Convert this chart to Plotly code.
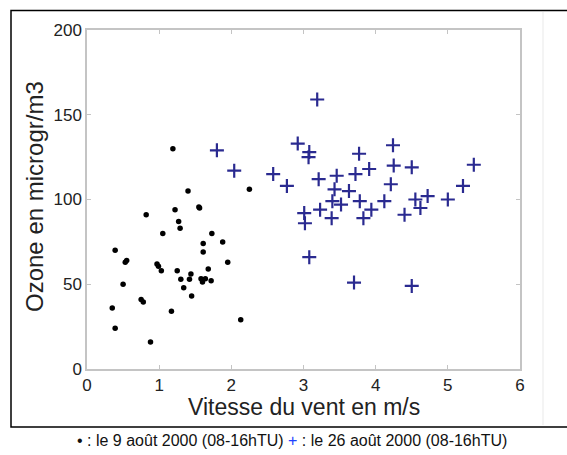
import plotly.graph_objects as go

# Data: 9 August 2000 (black dots)
aug9_wind = [1.19, 2.25, 1.40, 1.55, 1.56, 1.22, 0.82, 1.27, 1.29, 1.05,
             1.73, 1.88, 1.61, 1.61, 0.39, 0.53, 0.55, 1.95, 0.97, 0.99,
             1.03, 1.25, 1.68, 1.30, 1.44, 1.42, 1.58, 1.60, 1.64, 1.72,
             0.50, 1.34, 1.45, 0.75, 0.78, 0.35, 1.17, 0.39, 2.13, 0.88]
aug9_ozone = [130, 106, 105, 95.6, 95, 94, 91, 87, 83, 80,
              80, 75, 74, 69, 70, 63, 64, 63, 62, 60.6,
              58, 58, 59, 53, 56, 53, 53.2, 51.4, 53.2, 52,
              50, 48, 43, 41, 39.6, 36, 34, 24, 29, 16]

# Data: 26 August 2000 (blue crosses)
aug26_wind = [3.19, 1.80, 2.92, 3.08, 3.07, 4.24, 3.77, 2.04, 2.58, 2.77,
              3.21, 3.46, 3.72, 3.91, 4.25, 4.50, 5.36, 4.21, 5.21, 3.43,
              3.63, 3.40, 3.52, 3.78, 4.12, 4.55, 4.72, 5.00, 3.01, 3.23,
              3.94, 4.62, 4.40, 3.02, 3.39, 3.83, 3.08, 3.70, 4.50]
aug26_ozone = [159, 129, 133, 128, 125, 132, 127, 117, 115, 108,
               112, 114, 115, 118, 120, 119, 120.5, 109, 108, 106,
               105, 99, 97, 99, 99, 100, 102, 100, 92, 94,
               94, 95, 91, 86, 89, 89, 66, 51, 49]

x_ticks = [0, 1, 2, 3, 4, 5, 6]
y_ticks = [0, 50, 100, 150, 200]

W, H = 567, 455
L, R, T, B = 87, 520, 30, 369  # plot area pixels

def px(x):
    return (x - L) / (R - L)

def py(y):
    return (B - y) / (B - T)

FONT = "Arial, Liberation Sans, sans-serif"

fig = go.Figure()
fig.add_trace(go.Scatter(
    x=aug9_wind, y=aug9_ozone, mode="markers",
    marker=dict(symbol="circle", size=5.5, color="black"),
    showlegend=False, cliponaxis=False))
fig.add_trace(go.Scatter(
    x=aug26_wind, y=aug26_ozone, mode="markers",
    marker=dict(symbol="cross-thin", size=10, color="#2a2a90",
                line=dict(width=2.2, color="#2a2a90")),
    showlegend=False, cliponaxis=False))

axis_common = dict(
    showline=True, mirror="ticks", linecolor="#c4c4c4", linewidth=1.5,
    ticks="inside", ticklen=4, tickcolor="#c4c4c4", tickwidth=1,
    showgrid=False, zeroline=False,
    tickfont=dict(family=FONT, size=17, color="#222222"),
)

fig.update_layout(
    width=W, height=H,
    margin=dict(l=L, r=W - R, t=T, b=H - B),
    paper_bgcolor="white", plot_bgcolor="white",
    xaxis=dict(range=[0, 6], tickvals=x_ticks, ticktext=[str(v) for v in x_ticks], **axis_common),
    yaxis=dict(range=[0, 200], tickvals=y_ticks, ticktext=[str(v) for v in y_ticks], **axis_common),
    shapes=[
        dict(type="rect", xref="paper", yref="paper",
             x0=px(11), x1=px(575), y0=py(427), y1=py(10.5),
             line=dict(color="black", width=1.5), layer="below"),
        dict(type="line", xref="paper", yref="paper",
             x0=px(543), x1=px(543), y0=py(425), y1=py(12),
             line=dict(color="#f0f0f0", width=1.5), layer="below"),
    ],
    annotations=[
        dict(text="Vitesse du vent en m/s", xref="paper", yref="paper",
             x=px(304), y=py(407), xanchor="center", yanchor="middle",
             showarrow=False, font=dict(family=FONT, size=23, color="#222222")),
        dict(text="Ozone en microgr/m3", xref="paper", yref="paper",
             x=px(35), y=py(197), xanchor="center", yanchor="middle",
             textangle=-90, showarrow=False,
             font=dict(family=FONT, size=24, color="#222222")),
        dict(text="• : le 9 août 2000 (08-16hTU) <span style='color:#2040ff'>+</span> : le 26 août 2000 (08-16hTU)",
             xref="paper", yref="paper", x=px(292), y=py(441),
             xanchor="center", yanchor="middle", showarrow=False,
             font=dict(family=FONT, size=16, color="#111111")),
    ],
)

fig.write_html("out.html", config={"displayModeBar": False},
               post_script="document.body.style.margin='0';document.body.style.padding='0';")
